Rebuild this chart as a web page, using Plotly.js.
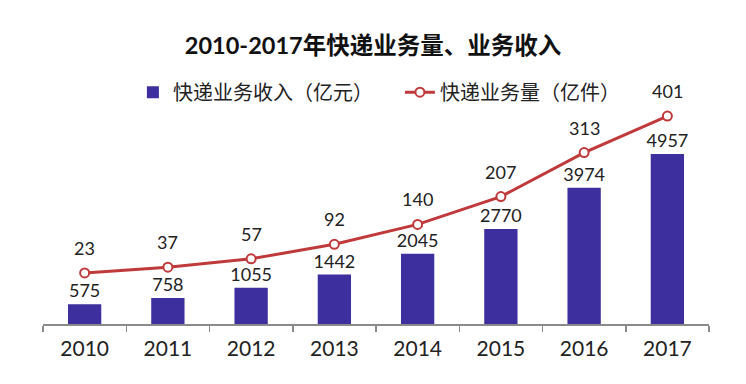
<!DOCTYPE html>
<html>
<head>
<meta charset="utf-8">
<script src="https://cdn.plot.ly/plotly-3.0.1.min.js"></script>
<style>html,body{margin:0;padding:0;background:#fff;}#chart{width:746px;height:384px;}</style>
</head>
<body>
<div id="chart"></div>
<script>
const years = ['2010','2011','2012','2013','2014','2015','2016','2017'];
const revenue = [575, 758, 1055, 1442, 2045, 2770, 3974, 4957];
const volume = [23, 37, 57, 92, 140, 207, 313, 401];
const revenueName = '快递业务收入（亿元）';
const volumeName = '快递业务量（亿件）';
const chartTitle = '2010-2017年快递业务量、业务收入';

const FONT = 'Lato, "Noto Sans CJK SC", sans-serif';
const barColor = '#3d2f9e';
const lineColor = '#c03a3c';

const traces = [
  {
    type: 'bar', x: years, y: revenue, name: revenueName,
    marker: {color: barColor}, width: 0.4,
    text: revenue.map(String), textposition: 'outside', constraintext: 'none',
    textfont: {family: FONT, size: 18, color: '#222'},
    cliponaxis: false, hoverinfo: 'none'
  },
  {
    type: 'scatter', mode: 'lines+markers', x: years, y: volume, name: volumeName,
    yaxis: 'y2',
    line: {color: lineColor, width: 3},
    marker: {size: 9, color: '#fff', line: {color: lineColor, width: 2}},
    cliponaxis: false, hoverinfo: 'none'
  }
];

const annotations = years.map((yr, i) => ({
  x: i, y: volume[i], xref: 'x', yref: 'y2',
  text: String(volume[i]), showarrow: false, yshift: 25,
  font: {family: FONT, size: 18, color: '#222'}
}));

const layout = {
  width: 746, height: 384,
  margin: {l: 43, r: 37, t: 80, b: 60},
  paper_bgcolor: '#fff', plot_bgcolor: 'rgba(0,0,0,0)',
  font: {family: FONT, color: '#222'},
  title: {text: '<b>' + chartTitle + '</b>', x: 0.5, xanchor: 'center', y: 0.88, yanchor: 'middle',
          font: {family: FONT, size: 23.5, color: '#111'}},
  showlegend: true,
  legend: {orientation: 'h', x: 0.135, xanchor: 'left', y: 0.95, yanchor: 'middle',
           font: {family: FONT, size: 20, color: '#222'}, entrywidth: 222, bgcolor: 'rgba(0,0,0,0)'},
  xaxis: {type: 'category', range: [-0.5, 7.5], showline: true, linecolor: '#8a8a8a', linewidth: 2,
          ticks: 'outside', tickson: 'boundaries', ticklen: 6, tickcolor: '#8a8a8a', tickwidth: 1.5,
          ticklabelstandoff: 5,
          tickfont: {family: FONT, size: 21, color: '#222'}, showgrid: false, zeroline: false, fixedrange: true},
  yaxis: {range: [0, 7114], visible: false, showgrid: false, zeroline: false, fixedrange: true},
  yaxis2: {range: [-100, 488], overlaying: 'y', side: 'right', visible: false, showgrid: false, zeroline: false, fixedrange: true},
  annotations: annotations,
  bargap: 0.6
};

Plotly.newPlot('chart', traces, layout, {displayModeBar: false, staticPlot: true});
</script>
</body>
</html>
